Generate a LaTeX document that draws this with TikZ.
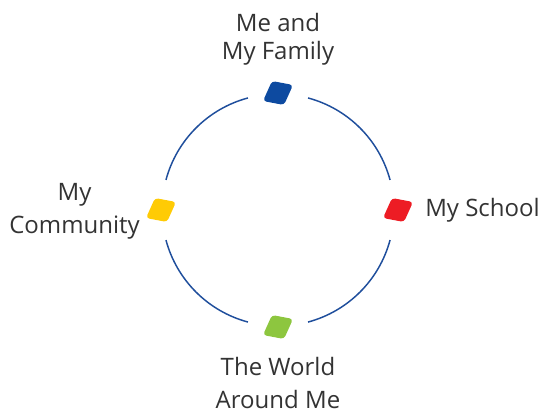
\documentclass[tikz,border=0pt]{standalone}
\usepackage{fontspec}
\setmainfont{Open Sans}
\usepackage{tikz}

\definecolor{ringblue}{RGB}{31,78,156}
\definecolor{famblue}{RGB}{13,74,160}
\definecolor{schoolred}{RGB}{237,28,36}
\definecolor{worldgreen}{RGB}{141,198,63}
\definecolor{commyellow}{RGB}{255,203,5}
\definecolor{labelgray}{RGB}{51,51,51}

\begin{document}
\begin{tikzpicture}[x=0.75pt,y=-0.75pt,
  ring/.style={draw=ringblue,line width=1.1pt},
  tile/.style={rounded corners=2.5pt},
  lbl/.style={text=labelgray,font=\fontsize{18}{21}\selectfont,align=center,inner sep=0pt}]

\useasboundingbox (0,0) rectangle (545,410);

% the ring, broken where the tiles sit
\coordinate (hub) at (278,210);
\foreach \a in {15,105,195,285}
  \draw[ring] (hub) ++(\a:116) arc[start angle=\a, end angle=\a+60, radius=116];

% tiles on the ring (top, right, bottom, left)
\coordinate (family) at (278,93);
\coordinate (school) at (398,210);
\coordinate (world) at (278,327);
\coordinate (community) at (161,210);

\fill[tile,fill=famblue,shift={(family)}] (-6,-12) -- (15,-8) -- (6,12) -- (-15,8) -- cycle;
\fill[tile,fill=schoolred,shift={(school)}] (-6,-12) -- (15,-8) -- (6,12) -- (-15,8) -- cycle;
\fill[tile,fill=worldgreen,shift={(world)}] (-6,-12) -- (15,-8) -- (6,12) -- (-15,8) -- cycle;
\fill[tile,fill=commyellow,shift={(community)}] (-6,-12) -- (15,-8) -- (6,12) -- (-15,8) -- cycle;

% labels
\node[lbl] (familylbl) at (278,39) {Me and\\My Family};
\node[lbl,anchor=west] (schoollbl) at (425,210) {My School};
\node[lbl] (worldlbl) at (278,383) {The World\\[4pt]Around Me};
\node[lbl,anchor=east] (communitylbl) at (140,211) {My\\[4pt]Community};

\end{tikzpicture}
\end{document}
